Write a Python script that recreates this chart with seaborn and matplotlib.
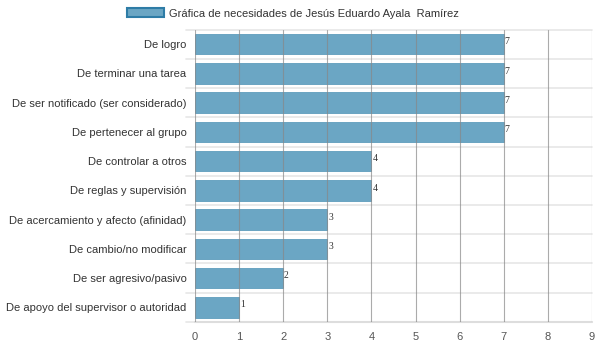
import matplotlib
matplotlib.use("Agg")
import matplotlib.pyplot as plt
import seaborn as sns
import pandas as pd
from matplotlib.patches import Patch

categories = [
    "De logro",
    "De terminar una tarea",
    "De ser notificado (ser considerado)",
    "De pertenecer al grupo",
    "De controlar a otros",
    "De reglas y supervisión",
    "De acercamiento y afecto (afinidad)",
    "De cambio/no modificar",
    "De ser agresivo/pasivo",
    "De apoyo del supervisor o autoridad",
]
values = [7, 7, 7, 7, 4, 4, 3, 3, 2, 1]
series_name = "Gráfica de necesidades de Jesús Eduardo Ayala  Ramírez"
x_ticks = [0, 1, 2, 3, 4, 5, 6, 7, 8, 9]

df = pd.DataFrame({"cat": categories, "val": values})

sns.set_theme(style="white")
plt.rcParams["font.family"] = ["Liberation Sans", "DejaVu Sans"]

fig = plt.figure(figsize=(5.98, 3.48), dpi=100)
ax = fig.add_axes([0.326, 0.075, 0.664, 0.840])

bar_color = "#6ba6c4"
sns.barplot(data=df, y="cat", x="val", orient="h", color=bar_color,
            saturation=1, width=0.7, edgecolor="#5f9dbd", linewidth=0.6, ax=ax)

ax.set_xlim(0, 9)
ax.set_ylim(len(categories) - 0.5, -0.5)
ax.set_xticks(x_ticks)
ax.set_xticklabels([str(t) for t in x_ticks], fontsize=8, color="#555555")
ax.set_yticks(range(len(categories)))
ax.set_yticklabels(categories, fontsize=8, color="#333333")
ax.set_xlabel("")
ax.set_ylabel("")

# vertical grid lines on top of bars
for t in x_ticks:
    ax.axvline(t, color="#888888", lw=0.8, alpha=0.7, zorder=5)
# horizontal band separators
for b in range(len(categories) + 1):
    ax.plot([-0.2, 9], [b - 0.5, b - 0.5], color="#e6e6e6", lw=1.2, zorder=0,
            clip_on=False)

for s in ax.spines.values():
    s.set_visible(False)
ax.plot([0, 9], [len(categories) - 0.5] * 2, color="#dddddd", lw=1.5, zorder=1, clip_on=False)
ax.tick_params(axis="both", length=0)
ax.tick_params(axis="x", pad=7)
ax.tick_params(axis="y", pad=6)

for i, v in enumerate(values):
    ax.text(v + 0.02, i - 0.08, str(v), fontsize=7, color="#333333",
            family=["Liberation Serif", "DejaVu Serif"], va="center", ha="left", zorder=6)

handle = Patch(facecolor=bar_color, edgecolor="#2e7ca6", linewidth=1.5)
fig.legend([handle], [series_name], loc="upper center", bbox_to_anchor=(0.49, 1.005),
           frameon=False, fontsize=8, handlelength=3.3, handleheight=0.9,
           handletextpad=0.5, labelcolor="#333333")

fig.savefig("out.png", dpi=100)
